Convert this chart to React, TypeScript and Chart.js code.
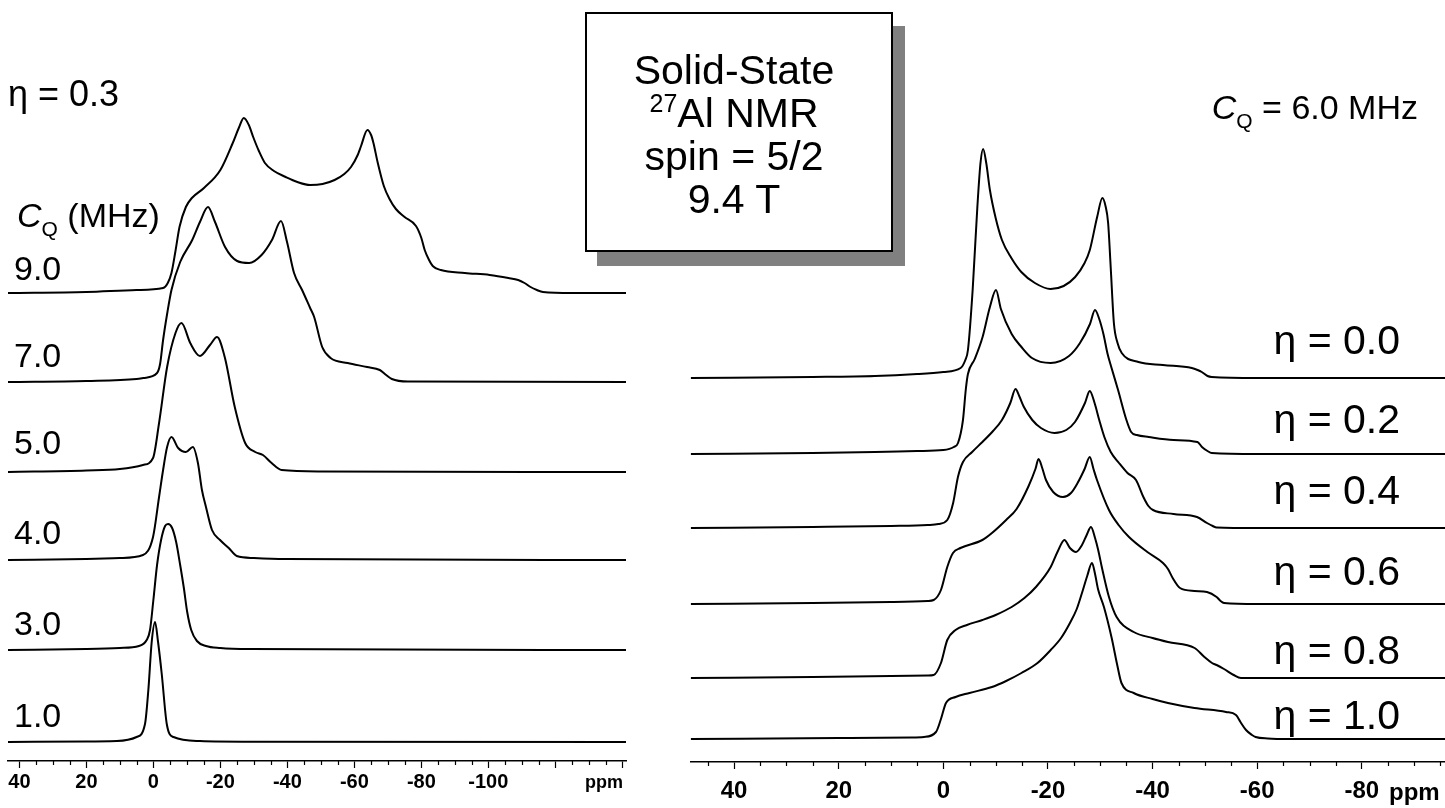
import React, { useEffect, useRef } from 'react';
import { Chart, registerables } from 'chart.js';

Chart.register(...registerables);

// ---------- Left panel: eta = 0.3, different C_Q values (ppm, intensity) ----------
const leftLabels = ['9.0', '7.0', '5.0', '4.0', '3.0', '1.0'];
const leftOffsets = [468, 379, 289, 201, 111, 19];

const cq9: number[][] = [
  [43.4, 0], [20, 1], [5, 3], [-2.9, 5], [-4.3, 10], [-5.4, 20], [-6.6, 42], [-7.8, 66], [-9.7, 86],
  [-11.5, 95], [-15.1, 105], [-20, 123], [-23.7, 150], [-25.5, 165], [-27.0, 175], [-28.5, 168],
  [-29.8, 156], [-31.5, 142], [-33.3, 130], [-36, 122], [-39.5, 116], [-43, 111], [-46.8, 108],
  [-50.5, 109], [-54.1, 113], [-57, 119], [-59.0, 126], [-61, 138], [-62.0, 147], [-63.9, 163],
  [-65.0, 158], [-65.7, 150], [-67.0, 130], [-68.8, 107], [-70.5, 94], [-72.4, 84], [-75, 76],
  [-78.4, 67], [-80, 55], [-81.0, 43], [-82.3, 33], [-83.4, 27], [-85.8, 23], [-93, 20],
  [-100.4, 18], [-106, 15], [-108.9, 13], [-110.8, 10], [-112.6, 6], [-114.5, 3], [-116.3, 1],
  [-125, 0], [-141.1, 0],
];
const cq7: number[][] = [
  [43.4, 0], [20, 1], [5, 3], [3, 4], [-1.1, 9], [-2.0, 18], [-2.9, 42], [-4.2, 70], [-5.4, 92],
  [-8.0, 120], [-11.6, 142], [-13.9, 160], [-16.3, 175], [-18.4, 160], [-21.4, 135], [-25.0, 121],
  [-28.6, 119], [-32.3, 127], [-35.4, 142], [-38.1, 161], [-39.9, 140], [-42.0, 109], [-44.4, 92],
  [-46.8, 74], [-48.0, 65], [-50.4, 35], [-52.9, 24], [-58, 19], [-63.8, 15], [-67.6, 12],
  [-69.5, 7], [-71.2, 3], [-76, 0.5], [-141.1, 0],
];
const cq5: number[][] = [
  [43.4, 0], [20, 1.5], [10, 3], [3.1, 7], [0.1, 14], [-1.7, 49], [-4.1, 105], [-6.6, 139],
  [-8.4, 149], [-11.0, 129], [-13.9, 116], [-16.9, 127], [-19.0, 135], [-21.3, 115], [-24.3, 65],
  [-27.4, 29], [-30.4, 20], [-32.7, 17], [-35.3, 9], [-38.3, 2], [-50, 0.5], [-141.1, 0],
];
const cq4: number[][] = [
  [43.4, 0], [20, 1], [10, 2], [3.1, 5], [0.1, 23], [-1.7, 63], [-2.9, 90], [-4.1, 113],
  [-5.4, 123], [-7.4, 112], [-9.7, 108], [-11.8, 113], [-13.3, 97], [-14.5, 70], [-15.7, 53],
  [-17.5, 30], [-19.9, 20], [-22.5, 12], [-24.9, 4], [-30, 2], [-39.5, 1], [-141.1, 0],
];
const cq3: number[][] = [
  [43.4, 0], [20, 1], [10, 2], [4.3, 4], [2.0, 10], [1.0, 20], [0, 50], [-1.1, 85], [-2.3, 110],
  [-3.5, 124], [-4.4, 126], [-5.6, 122], [-6.8, 108], [-8.0, 85], [-9.1, 62], [-10.1, 38],
  [-11.3, 20], [-13.0, 9], [-15.7, 4], [-20, 2], [-28.9, 1], [-141.1, 0],
];
const cq1: number[][] = [
  [43.4, 0], [20, 0.5], [10.9, 1], [5.0, 5], [2.5, 18], [1.5, 52], [0.5, 100], [-0.5, 120],
  [-1.4, 100], [-2.5, 68], [-4.0, 18], [-6.0, 5], [-13.9, 1], [-30, 0.3], [-141.1, 0],
];
const leftSpectra = [cq9, cq7, cq5, cq4, cq3, cq1];
const leftMajorTicks = [40, 20, 0, -20, -40, -60, -80, -100, -120, -140];
const leftTickLabels = ['40', '20', '0', '-20', '-40', '-60', '-80', '-100', '', ''];

// ---------- Right panel: C_Q = 6.0 MHz, different eta values ----------
const rightLabels = ['0.0', '0.2', '0.4', '0.6', '0.8', '1.0'];
const rightOffsets = [384, 308, 234, 158, 84, 23];

const eta00: number[][] = [
  [48.3, 0], [25, 1], [13.1, 2], [5, 4], [0, 6], [-3.3, 10], [-4.2, 18], [-4.7, 28], [-5.6, 88],
  [-6.5, 171], [-7.1, 215], [-7.6, 229], [-8.2, 215], [-8.9, 188], [-10, 160], [-11.2, 138],
  [-13, 120], [-14.9, 106], [-17.5, 95], [-20.5, 89], [-23, 92], [-25.2, 101], [-27, 115],
  [-28.0, 128], [-29.4, 161], [-30.4, 180], [-31.0, 172], [-31.5, 155], [-32.0, 110], [-32.6, 55],
  [-33.3, 35], [-34.1, 25], [-37.3, 16], [-42, 13], [-47.5, 10], [-48.6, 8], [-49.4, 6],
  [-50.5, 2], [-51.3, 1], [-60, 0], [-95.9, 0],
];
const eta02: number[][] = [
  [48.3, 0], [25, 1], [13.1, 2], [5, 3], [0, 4], [-2.0, 7], [-2.8, 11], [-3.75, 34], [-4.3, 65],
  [-4.7, 80], [-6.0, 95], [-7.5, 117], [-8.9, 147], [-10.06, 164], [-11.0, 145], [-13.06, 120],
  [-14.93, 107], [-16.94, 96], [-20.52, 91], [-24.02, 98], [-26.12, 111], [-28.03, 130],
  [-28.99, 144], [-29.8, 135], [-30.6, 120], [-31.4, 100], [-32.1, 87], [-33.4, 64], [-35.0, 34],
  [-35.9, 22], [-37, 19], [-39.27, 17], [-44, 14], [-48.58, 12], [-49.44, 7], [-50.5, 3],
  [-51.3, 1], [-60, 0], [-95.9, 0],
];
const eta04: number[][] = [
  [48.3, 0], [25, 1], [10, 2], [3, 3], [0.94, 4], [-0.75, 8], [-1.87, 25], [-2.79, 51],
  [-3.75, 66], [-5.5, 76], [-7.46, 86], [-9.5, 97], [-11.2, 108], [-12.8, 125], [-13.8, 139],
  [-14.5, 132], [-15.4, 121], [-17, 108], [-18.66, 100], [-21.26, 95], [-23.5, 98], [-25.16, 106],
  [-27.07, 125], [-27.99, 137], [-28.91, 125], [-29.8, 108], [-30.78, 91], [-32, 76], [-33.58, 65],
  [-35.2, 55], [-36.83, 48], [-38.24, 31], [-39.2, 22], [-40.08, 18], [-44, 14], [-48.49, 11],
  [-50.4, 5], [-51.5, 2], [-52.24, 0.5], [-60, 0], [-95.9, 0],
];
const eta06: number[][] = [
  [48.3, 0], [25, 1], [10, 2], [3, 3], [1.85, 4], [0.46, 14], [-0.75, 37], [-1.84, 51],
  [-3.27, 56], [-7.46, 64], [-9.29, 71], [-12, 84], [-14.0, 95], [-16.3, 118], [-17.6, 135],
  [-18.2, 145], [-18.9, 136], [-19.62, 124], [-21, 112], [-22.87, 107], [-24.4, 111], [-25.66, 121],
  [-27.0, 135], [-27.99, 147], [-28.7, 135], [-29.37, 124], [-31.66, 94], [-33.5, 79], [-35.49, 67],
  [-39, 52], [-41.99, 41], [-42.94, 35], [-43.84, 26], [-45.24, 16], [-48, 13], [-50.4, 12],
  [-52.24, 7], [-53.0, 3], [-53.65, 1], [-60, 0], [-95.9, 0],
];
const eta08: number[][] = [
  [48.3, 0], [25, 1], [10, 2], [3, 2.5], [1.85, 3], [0.46, 15], [-0.75, 38], [-2.33, 48],
  [-4.5, 53], [-7.46, 58], [-10, 63], [-13.06, 71], [-15.5, 80], [-17.7, 91], [-20.52, 111],
  [-21.9, 127], [-23.14, 138], [-24.2, 130], [-25.35, 126], [-26.5, 133], [-27.4, 143],
  [-28.22, 151], [-29.0, 140], [-29.6, 128], [-30.33, 110], [-31.66, 81], [-33.12, 61],
  [-36.39, 46], [-40, 40], [-42.94, 36], [-48.03, 30], [-49.9, 21], [-51.36, 15], [-52.24, 13],
  [-53.65, 9], [-55.5, 3], [-56.9, 0], [-60, 0], [-95.9, 0],
];
const eta10: number[][] = [
  [48.3, 0], [20, 1], [6, 1.5], [3.71, 2], [1.41, 7], [0.46, 20], [-0.5, 36], [-2.33, 42],
  [-5, 46], [-9.29, 52], [-12, 58], [-14.93, 66], [-18, 76], [-20.52, 89], [-22.5, 101],
  [-24.2, 116], [-25.5, 130], [-26.5, 146], [-27.5, 163], [-28.41, 176], [-29.0, 165],
  [-29.56, 150], [-30.7, 132], [-32.18, 101], [-33.2, 75], [-34.05, 56], [-36.39, 46], [-40, 40],
  [-42.94, 36], [-48, 31], [-54.03, 27], [-55.94, 24], [-56.8, 17], [-57.86, 9], [-59.0, 4],
  [-59.69, 2], [-62, 0.5], [-66.3, 0], [-95.9, 0],
];
const rightSpectra = [eta00, eta02, eta04, eta06, eta08, eta10];
const rightMajorTicks = [40, 20, 0, -20, -40, -60, -80];
const rightTickLabels = ['40', '20', '0', '-20', '-40', '-60', '-80'];

const boxLines = ['Solid-State', '27|Al NMR', 'spin = 5/2', '9.4 T'];

const FONT = '"Liberation Sans", Arial, Helvetica, sans-serif';

function minorBetween(majors: number[], lo: number, hi: number): number[] {
  const out: number[] = [];
  for (let v = Math.ceil(lo / 5) * 5; v <= hi; v += 5) {
    if (!majors.includes(v)) out.push(v);
  }
  return out;
}

const minorTicksPlugin = {
  id: 'minorTicks',
  afterDraw(chart: any, _args: any, opts: any) {
    const { ctx } = chart;
    const xs = chart.scales.x;
    const y0 = chart.chartArea.bottom;
    ctx.save();
    ctx.strokeStyle = '#000';
    ctx.lineWidth = 1.2;
    for (const v of opts.values || []) {
      const px = Math.round(xs.getPixelForValue(v)) + 0.5;
      ctx.beginPath();
      ctx.moveTo(px, y0);
      ctx.lineTo(px, y0 + opts.length);
      ctx.stroke();
    }
    ctx.restore();
  },
};

function buildChart(
  canvas: HTMLCanvasElement,
  spectra: number[][][],
  offsets: number[],
  cfg: {
    min: number; max: number; yMax: number; axisHeight: number; padLeft: number; padRight: number;
    majors: number[]; labels: string[]; minors: number[]; fontSize: number; labelPad: number;
  },
) {
  const datasets = spectra.map((s, i) => ({
    data: s.map(([x, y]) => ({ x, y: y + offsets[i] })),
    borderColor: '#000',
    borderWidth: 2,
    pointRadius: 0,
    fill: false,
    cubicInterpolationMode: 'monotone' as const,
  }));
  return new Chart(canvas, {
    type: 'line',
    data: { datasets },
    plugins: [minorTicksPlugin],
    options: {
      animation: false,
      responsive: false,
      maintainAspectRatio: false,
      events: [],
      layout: { padding: { left: cfg.padLeft, right: cfg.padRight, top: 0, bottom: 0 } },
      plugins: {
        legend: { display: false },
        tooltip: { enabled: false },
        minorTicks: { values: cfg.minors, length: 4 },
      } as any,
      scales: {
        x: {
          type: 'linear',
          reverse: true,
          min: cfg.min,
          max: cfg.max,
          afterBuildTicks: (scale: any) => {
            scale.ticks = cfg.majors.map((v) => ({ value: v }));
          },
          afterFit: (scale: any) => {
            scale.height = cfg.axisHeight;
          },
          border: { display: true, color: '#000', width: 1.5 },
          grid: {
            display: true,
            drawOnChartArea: false,
            drawTicks: true,
            tickLength: 7,
            tickColor: '#000',
            tickWidth: 1.2,
          },
          ticks: {
            color: '#000',
            autoSkip: false,
            maxRotation: 0,
            padding: cfg.labelPad,
            font: { family: FONT, size: cfg.fontSize, weight: 'bold' },
            callback: (_v: any, idx: number) => cfg.labels[idx],
          },
        },
        y: { display: false, min: 0, max: cfg.yMax },
      },
    } as any,
  });
}

export default function App() {
  const leftRef = useRef<HTMLCanvasElement>(null);
  const rightRef = useRef<HTMLCanvasElement>(null);

  useEffect(() => {
    const left = buildChart(leftRef.current!, leftSpectra, leftOffsets, {
      min: -141.1, max: 43.4, yMax: 761, axisHeight: 47, padLeft: 8, padRight: 14,
      majors: leftMajorTicks, labels: leftTickLabels,
      minors: minorBetween(leftMajorTicks, -140, 40), fontSize: 20, labelPad: 2,
    });
    const right = buildChart(rightRef.current!, rightSpectra, rightOffsets, {
      min: -95.9, max: 48.3, yMax: 762, axisHeight: 46, padLeft: 10.7, padRight: 0,
      majors: rightMajorTicks, labels: rightTickLabels,
      minors: minorBetween(rightMajorTicks, -95, 45), fontSize: 24, labelPad: 8,
    });
    return () => {
      left.destroy();
      right.destroy();
    };
  }, []);

  const abs = (s: React.CSSProperties): React.CSSProperties => ({
    position: 'absolute', lineHeight: 1, whiteSpace: 'nowrap', color: '#000', ...s,
  });
  const leftLabelTops = [251, 338, 425, 515, 606, 698];
  const rightLabelTops = [320, 399, 470, 551, 630, 695];
  const boxLineTops = [36, 79, 122, 165];

  return (
    <div style={{ position: 'absolute', left: 0, top: 0, width: 1445, height: 808, overflow: 'hidden', background: '#fff', fontFamily: FONT }}>
      <canvas ref={leftRef} width={640} height={808} style={{ position: 'absolute', left: 0, top: 0, width: 640, height: 808 }} />
      <canvas ref={rightRef} width={765} height={808} style={{ position: 'absolute', left: 680, top: 0, width: 765, height: 808 }} />

      {/* left panel annotations */}
      <div style={abs({ left: 8, top: 76, fontSize: 36 })}>η = 0.3</div>
      <div style={abs({ left: 17, top: 198, fontSize: 34 })}>
        <i>C</i><span style={{ fontSize: 21, position: 'relative', top: 9 }}>Q</span> (MHz)
      </div>
      {leftLabels.map((t, i) => (
        <div key={t} style={abs({ left: 14, top: leftLabelTops[i], fontSize: 34 })}>{t}</div>
      ))}
      <div style={abs({ left: 585, top: 773, fontSize: 18, fontWeight: 'bold' })}>ppm</div>

      {/* right panel annotations */}
      <div style={abs({ right: 27, top: 90, fontSize: 34 })}>
        <i>C</i><span style={{ fontSize: 21, position: 'relative', top: 9 }}>Q</span> = 6.0 MHz
      </div>
      {rightLabels.map((t, i) => (
        <div key={t} style={abs({ right: 45, top: rightLabelTops[i], fontSize: 41 })}>η = {t}</div>
      ))}
      <div style={abs({ left: 1389, top: 780, fontSize: 24, fontWeight: 'bold' })}>ppm</div>

      {/* info box */}
      <div style={{ position: 'absolute', left: 585, top: 12, width: 308, height: 240, boxSizing: 'border-box', border: '2px solid #000', background: '#fff', boxShadow: '12px 14px 0 #808080' }}>
        {boxLines.map((l, i) => {
          const parts = l.split('|');
          return (
            <div key={i} style={abs({ left: -5, width: 304, top: boxLineTops[i], fontSize: 41, textAlign: 'center' })}>
              {parts.length > 1 ? (
                <><span style={{ fontSize: 25, position: 'relative', top: -15 }}>{parts[0]}</span>{parts[1]}</>
              ) : l}
            </div>
          );
        })}
      </div>
    </div>
  );
}
